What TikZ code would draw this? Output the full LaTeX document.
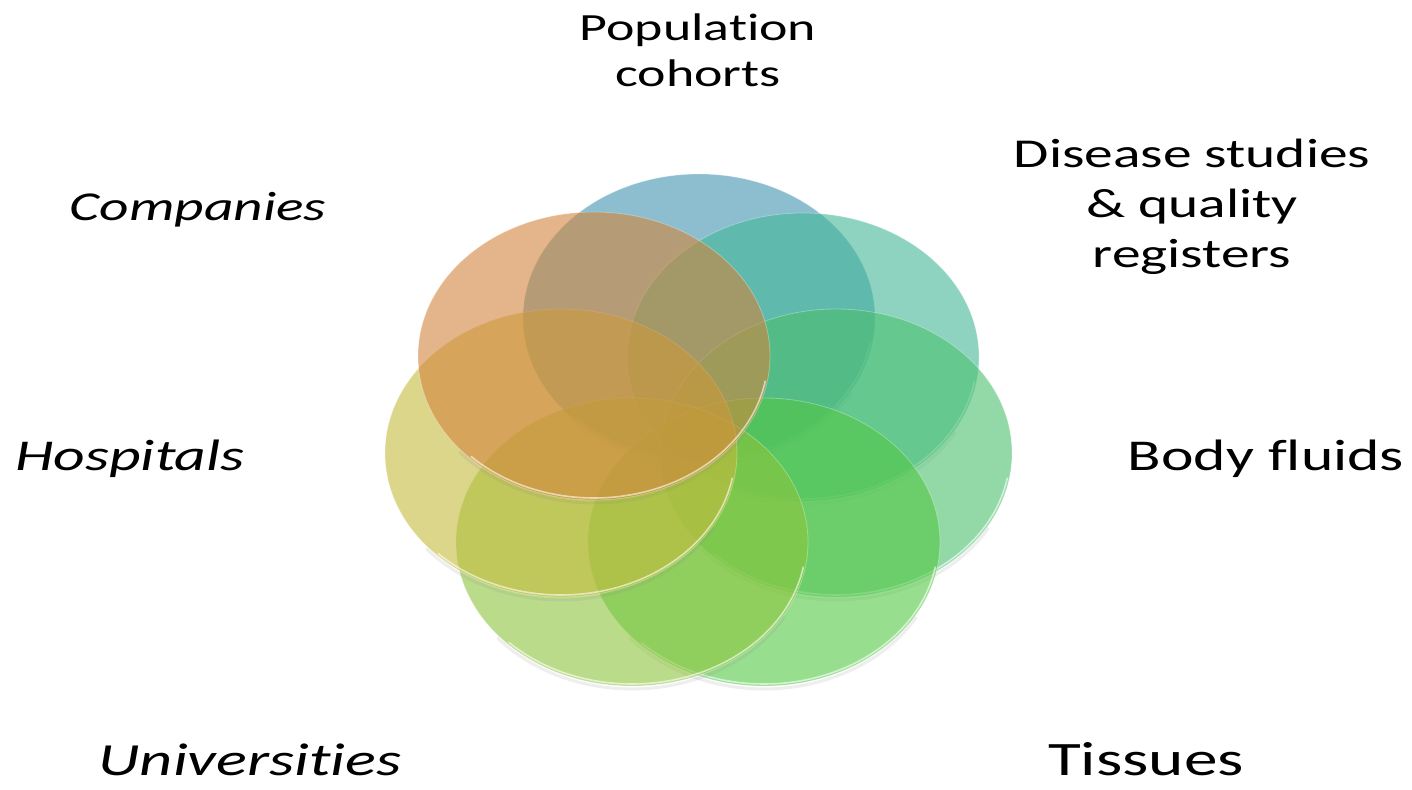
\documentclass[tikz,border=0pt]{standalone}
\usepackage{fontspec}
\setmainfont{Carlito}[FakeStretch=1.4, RawFeature={-liga;-clig;-calt;-dlig}]
\usepackage{tikz}
\usetikzlibrary{shapes.geometric}

\definecolor{cohortblue}{RGB}{63,147,177}
\definecolor{diseaseteal}{RGB}{67,182,150}
\definecolor{fluidgreen}{RGB}{75,192,110}
\definecolor{tissuegreen}{RGB}{82,200,68}
\definecolor{unigreen}{RGB}{140,196,60}
\definecolor{hospyellow}{RGB}{196,186,60}
\definecolor{comporange}{RGB}{210,132,60}

\begin{document}
\begin{tikzpicture}[x=1pt, y=1pt,
    disc/.style={ellipse, minimum width=352pt, minimum height=288pt, inner sep=0pt,
                 fill opacity=0.6, draw=white, draw opacity=0.3, line width=0.8pt},
    rim/.style={white, line width=1.6pt, opacity=0.6},
    shade/.style={black!45, line width=3pt, opacity=0.15},
    tag/.style={inner sep=0pt, align=center, text=black}]
    \useasboundingbox (0,0) rectangle (1412,789);
    % discs, back to front
    \foreach \n/\cx/\cy/\col in {cohort/699/471/cohortblue, disease/803/432/diseaseteal,
            fluid/836/336/fluidgreen, tissue/764/247/tissuegreen, uni/632/247/unigreen,
            hosp/561/336/hospyellow, comp/594/433/comporange} {
        \draw[shade] (\cx,\cy-3) ++(220:176 and 144) arc[start angle=220, end angle=330, x radius=176, y radius=144];
        \node[disc, fill=\col] (\n) at (\cx,\cy) {};
        \draw[rim] (\cx,\cy) ++(225:174 and 142) arc[start angle=225, end angle=350, x radius=174, y radius=142];
    }
    % labels
    \node[tag, font=\fontsize{38.5}{46}\selectfont] (cohortlbl) at (698,739) {Population\\cohorts};
    \node[tag, font=\fontsize{41}{50}\selectfont] (diseaselbl) at (1192,582) {Disease studies\\\& quality\\registers};
    \node[tag, font=\fontsize{41}{46}\selectfont\itshape, anchor=base] (complbl) at (198,568) {Companies};
    \node[tag, font=\fontsize{44}{48}\selectfont\itshape, anchor=base] (hosplbl) at (130,318) {Hospitals};
    \node[tag, font=\fontsize{44}{48}\selectfont, anchor=base] (fluidlbl) at (1266,318) {Body fluids};
    \node[tag, font=\fontsize{46}{50}\selectfont\itshape, anchor=base] (unilbl) at (250,13) {Universities};
    \node[tag, font=\fontsize{48}{52}\selectfont, anchor=base] (tissuelbl) at (1146,13) {Tissues};
\end{tikzpicture}
\end{document}
